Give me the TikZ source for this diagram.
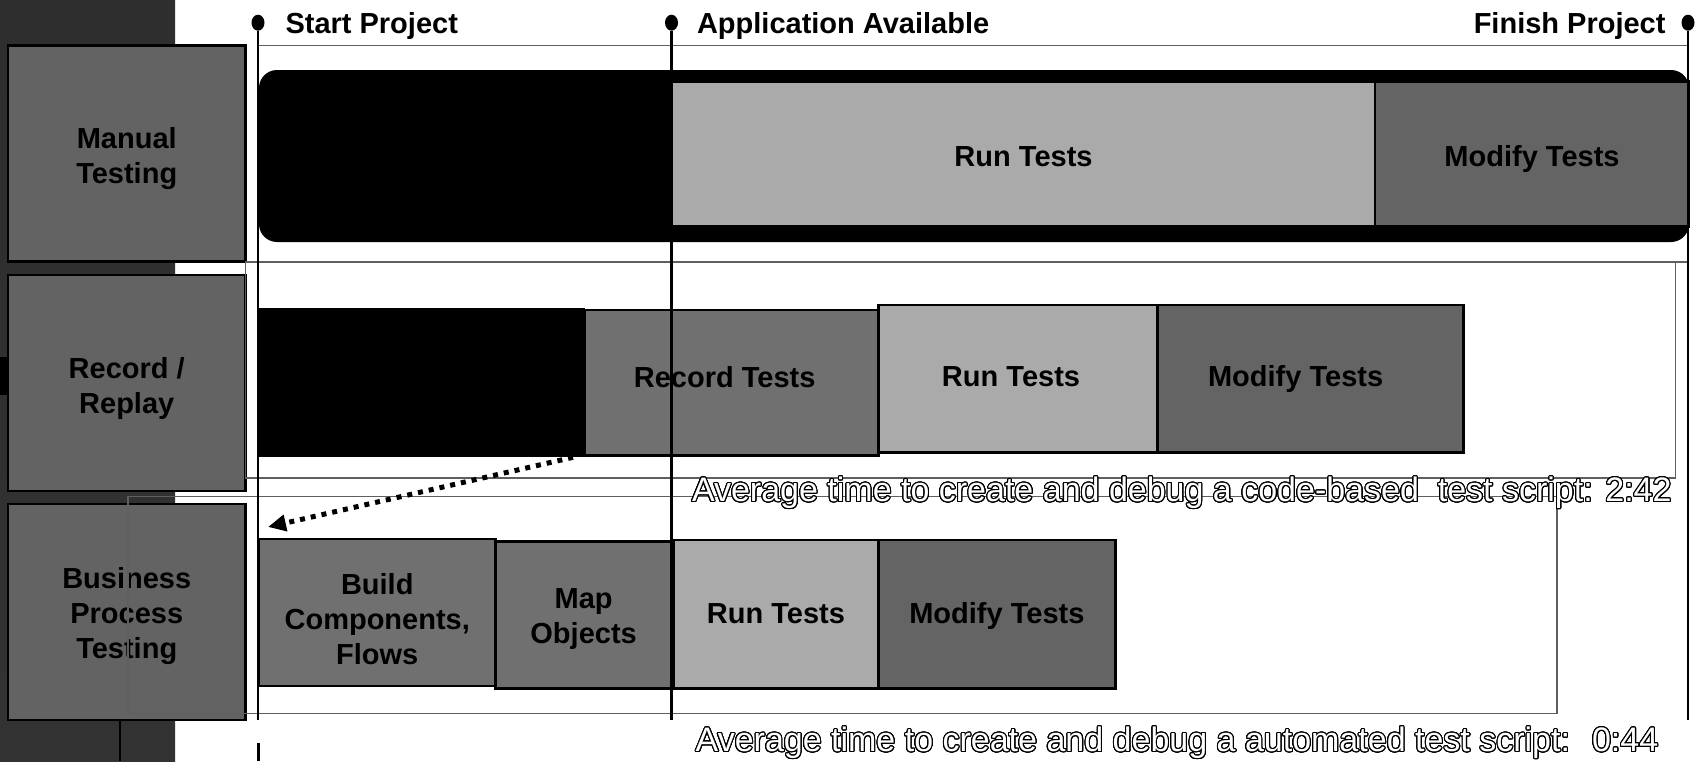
\documentclass[tikz,border=0pt]{standalone}
\usepackage{fontspec}
\setmainfont{Liberation Sans}
\usepackage{contour}
\contourlength{1.1pt}
\contournumber{24}
\usetikzlibrary{positioning,arrows.meta,shapes.geometric}
\definecolor{mygreyi}{RGB}{99,99,99}
\definecolor{mygreyii}{RGB}{112,112,112}
\definecolor{mygreyiii}{RGB}{170,170,170}
\definecolor{mygreyiv}{RGB}{100,100,100}
\definecolor{myframe}{RGB}{95,95,95}
\definecolor{mypaneli}{RGB}{46,46,46}
\definecolor{mypanelii}{RGB}{26,26,26}
\definecolor{mypaneliii}{RGB}{50,50,50}
\newcommand{\notetext}[1]{\textcolor{white}{\contour{black}{#1}}}
\tikzset{
tikzplanpic/.style={
  x=1pt,y=-1pt
    ,inner sep=0pt
    ,outer sep=0pt
}
,heading/.style={font=\fontsize{29}{35}\selectfont\bfseries
  ,text height=21pt,text depth=0pt}
,milestone/.style={ellipse,fill=black,minimum width=13pt,minimum height=16pt}
,msline/.style={line width=2.5pt}
,frame/.style={draw=myframe,line width=1.3pt}
,boxtext/.style={font=\fontsize{29}{35}\selectfont\bfseries,align=center}
,phase/.style={draw=black,line width=2.5pt,anchor=north west}
,rowname/.style={phase,fill=mygreyi,minimum width=237.5pt,minimum height=216pt}
,bar/.style={fill=black,anchor=north west}
,work/.style={phase,fill=mygreyii}
,runtests/.style={phase,fill=mygreyiii}
,modtests/.style={phase,fill=mygreyiv}
,note/.style={font=\fontsize{34}{40}\selectfont,anchor=base west}
,pointer/.style={line width=5pt,dash pattern=on 5pt off 6pt
  ,-{Triangle[length=18pt,width=16pt]}}
}

\begin{document}
\begin{tikzpicture}[tikzplanpic]
  \useasboundingbox (0,0) rectangle (1703,761);
  \fill[white] (0,0) rectangle (1703,761);
  % side panel
  \shade[top color=mypaneli,middle color=mypanelii,bottom color=mypaneliii]
    (0,0) rectangle (175,761);
  \fill[black] (0,357) rectangle (8,395);
  \draw[line width=2pt] (120,718) -- (120,761);
  % row names
  \node[rowname,label={[boxtext,yshift=-5pt]center:Manual\\Testing}]
    (mtname) at (8,45.7) {};
  \node[rowname,label={[boxtext,yshift=-5pt]center:Record /\\Replay}]
    (rrname) at (8,275) {};
  \node[rowname,label={[boxtext,yshift=-4.5pt]center:Business\\Process\\Testing}]
    (bpname) at (8,504) {};
  % manual testing
  \node[bar,rounded corners=18pt,minimum width=1430pt,minimum height=172pt]
    (mtbar) at (259,70) {};
  \node[runtests,minimum width=703pt,minimum height=145pt
    ,label={[boxtext,yshift=-2pt]center:Run Tests}]
    (mtrun) at (672,81.7) {};
  \node[modtests,minimum width=314pt,minimum height=145pt
    ,label={[boxtext,yshift=-4.5pt]center:Modify Tests}]
    (mtmod) at (mtrun.north east) {};
  % record / replay
  \node[bar,minimum width=326pt,minimum height=149pt] (rrprep) at (259,308.3) {};
  \node[work,minimum width=293.3pt,minimum height=145.7pt
    ,label={[boxtext,xshift=-7pt,yshift=6pt]center:Record Tests}]
    (rrrec) at (585,310) {};
  \node[runtests,minimum width=279.4pt,minimum height=147.3pt
    ,label={[boxtext,xshift=-7pt,yshift=2pt]center:Run Tests}]
    (rrrun) at (878.3,305) {};
  \node[modtests,minimum width=305.8pt,minimum height=147.3pt
    ,label={[boxtext,xshift=-15pt]center:Modify Tests}]
    (rrmod) at (rrrun.north east) {};
  % business process testing
  \node[work,minimum width=236.5pt,minimum height=147pt
    ,label={[boxtext,yshift=-6.5pt]center:Build\\Components,\\Flows}]
    (bpbuild) at (259,539) {};
  \node[work,minimum width=176.2pt,minimum height=146.6pt
    ,label={[boxtext,yshift=-4pt]center:Map\\Objects}]
    (bpmap) at (495.5,541.7) {};
  \node[runtests,minimum width=204.8pt,minimum height=148.3pt
    ,label={[boxtext]center:Run Tests}]
    (bprun) at (673.5,540) {};
  \node[modtests,minimum width=237.1pt,minimum height=148.3pt
    ,label={[boxtext,yshift=-2pt]center:Modify Tests}]
    (bpmod) at (bprun.north east) {};
  % frames
  \draw[frame] (258,45.7) rectangle (1688,262);
  \draw[frame] (245.5,262) rectangle (1675.5,478);
  \draw[frame] (128,496.7) rectangle (1557,713.3);
  % milestones
  \node[milestone] (msstart) at (258,22.7) {};
  \node[milestone] (msapp) at (671.5,22.7) {};
  \node[milestone] (msend) at (1688,22.7) {};
  \coordinate (msstartfoot) at (258,720);
  \coordinate (msappfoot) at (671.5,720);
  \coordinate (msendfoot) at (1688,720);
  \draw[msline] (msstart) -- (msstartfoot);
  \draw[msline] (msapp) -- (msappfoot);
  \draw[msline] (msend) -- (msendfoot);
  \draw[line width=3pt] (258,743) -- (258,761);
  \node[heading,right=21pt of msstart] (hdstart) {Start Project};
  \node[heading,right=19pt of msapp] (hdapp) {Application Available};
  \node[heading,left=16pt of msend] (hdend) {Finish Project};
  % reuse
  \draw[pointer] ([xshift=-12pt]rrprep.south east)
    -- ([xshift=9pt,yshift=12pt]bpbuild.north west);
  % notes
  \node[note] (notecode) at (692,501.7)
    {\notetext{Average time to create and debug a code-based~ test script: 2:42}};
  \node[note] (noteauto) at (695.7,751.7)
    {\notetext{Average time to create and debug a automated test script:~ 0:44}};
\end{tikzpicture}
\end{document}
